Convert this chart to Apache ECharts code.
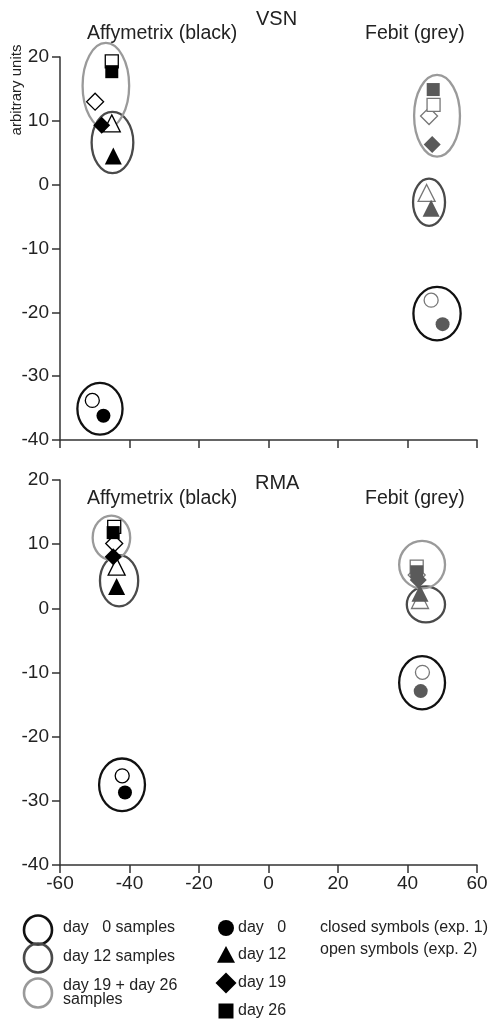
<!DOCTYPE html>
<html>
<head>
<meta charset="utf-8">
<script src="https://cdn.jsdelivr.net/npm/echarts@6/dist/echarts.min.js"></script>
<style>html,body{margin:0;padding:0;background:#fff;}#c{width:493px;height:1022px;}</style>
</head>
<body>
<div id="c"></div>
<script>
// ---- data ----
const dayLabels = ['day   0', 'day 12', 'day 19', 'day 26'];
const daySymbols = ['circle', 'triangle', 'diamond', 'rect'];
const xTicks = [-60, -40, -20, 0, 20, 40, 60];
const yTicks = [-40, -30, -20, -10, 0, 10, 20];

// points per day (0, 12, 19, 26): [x, y]
const vsnAffyClosed = [[-47.5, -36.2], [-44.65, 4.5], [-48.0, 9.3], [-45.1, 17.7]];
const vsnAffyOpen   = [[-50.7, -33.8], [-45.1, 9.6], [-49.9, 13.0], [-45.1, 19.3]];
const vsnFebitClosed = [[50.1, -21.85], [46.8, -3.7], [47.1, 6.3], [47.4, 14.9]];
const vsnFebitOpen   = [[46.8, -18.1], [45.5, -1.3], [46.2, 10.75], [47.5, 12.5]];

const rmaAffyClosed = [[-41.3, -28.7], [-43.7, 3.4], [-44.7, 8.05], [-44.7, 11.8]];
const rmaAffyOpen   = [[-42.1, -26.1], [-43.7, 6.5], [-44.4, 10.1], [-44.4, 12.7]];
const rmaFebitClosed = [[43.8, -12.9], [43.6, 2.35], [43.1, 4.4], [42.65, 5.7]];
const rmaFebitOpen   = [[44.3, -9.97], [43.6, 1.3], [42.65, 5.2], [42.65, 6.5]];

// grouping ellipses: [cx, cy, rx, ry] for day 0, day 12, day 19+26
const vsnAffyEllipses  = [[-48.5, -35.1, 6.5, 4.05], [-44.9, 6.6, 6.0, 4.8], [-46.8, 15.5, 6.7, 6.7]];
const vsnFebitEllipses = [[48.5, -20.2, 6.8, 4.2], [46.2, -2.75, 4.6, 3.7], [48.5, 10.8, 6.6, 6.4]];
const rmaAffyEllipses  = [[-42.15, -27.5, 6.6, 4.1], [-43.0, 4.3, 5.5, 4.0], [-45.2, 11.0, 5.4, 3.45]];
const rmaFebitEllipses = [[44.2, -11.6, 6.6, 4.15], [45.3, 0.6, 5.5, 2.8], [44.2, 6.8, 6.6, 3.7]];

// ---- styling ----
const FONT = 'Liberation Sans, Arial, Helvetica, sans-serif';
const ringColors = ['#111111', '#4a4a4a', '#9a9a9a'];
const affyColor = '#000000';
const febitColor = '#5a5a5a';
const symbolSizes = { circle: 14, triangle: 17, diamond: 17, rect: 13 };

function ellipseSeries(data, gi) {
  return {
    type: 'custom', xAxisIndex: gi, yAxisIndex: gi, z: 1, silent: true,
    data: data,
    renderItem: function (params, api) {
      const c = api.coord([api.value(0), api.value(1)]);
      const s = api.size([api.value(2), api.value(3)]);
      return {
        type: 'ellipse',
        shape: { cx: c[0], cy: c[1], rx: s[0], ry: s[1] },
        style: { fill: 'none', stroke: ringColors[params.dataIndex], lineWidth: 2.3 }
      };
    }
  };
}

function pointSeries(data, gi, color, open) {
  return {
    type: 'scatter', xAxisIndex: gi, yAxisIndex: gi, z: open ? 3 : 4,
    data: data,
    symbol: function (v, p) { return daySymbols[p.dataIndex]; },
    symbolSize: function (v, p) { return symbolSizes[daySymbols[p.dataIndex]]; },
    itemStyle: open
      ? { color: '#ffffff', borderColor: color === affyColor ? '#000' : '#777', borderWidth: 1.3, opacity: 1 }
      : { color: color, opacity: 1 }
  };
}

const axisLineStyle = { color: '#333', width: 1.5 };

function xAxis(gi, showLabels) {
  return {
    type: 'value', gridIndex: gi, min: -60, max: 60, interval: 20,
    axisLine: { show: true, onZero: false, lineStyle: axisLineStyle },
    axisTick: { show: true, length: 8, lineStyle: axisLineStyle },
    axisLabel: { show: showLabels, fontSize: 19, fontFamily: FONT, color: '#222', margin: 9,
      formatter: function (v) { return xTicks.indexOf(v) >= 0 ? String(v) : ''; } },
    splitLine: { show: false }
  };
}
function yAxis(gi) {
  return {
    type: 'value', gridIndex: gi, min: -40, max: 20, interval: 10,
    axisLine: { show: true, onZero: false, lineStyle: axisLineStyle },
    axisTick: { show: true, length: 8, lineStyle: axisLineStyle },
    axisLabel: { fontSize: 19, fontFamily: FONT, color: '#222', margin: 11,
      formatter: function (v) { return yTicks.indexOf(v) >= 0 ? String(v) : ''; } },
    splitLine: { show: false }
  };
}

function txt(x, y, s, size, extra) {
  return Object.assign({
    type: 'text', x: x, y: y, silent: true,
    style: { text: s, fontSize: size, fontFamily: FONT, fill: '#222', textVerticalAlign: 'middle', verticalAlign: 'middle' }
  }, extra || {});
}

const legendGraphics = [];
// ring legend
const ringY = [930, 958, 993];
ringY.forEach(function (y, i) {
  legendGraphics.push({ type: 'ellipse', silent: true, shape: { cx: 38, cy: y, rx: 14, ry: 14.5 },
    style: { fill: 'none', stroke: ringColors[i], lineWidth: 2.6 } });
});
legendGraphics.push(txt(63, 928, 'day   0 samples', 16));
legendGraphics.push(txt(63, 957, 'day 12 samples', 16));
legendGraphics.push(txt(63, 986, 'day 19 + day 26', 16));
legendGraphics.push(txt(63, 1000, 'samples', 16));
// symbol legend
const symY = [928, 955, 983, 1011];
const symSize = [16, 18, 21, 15];
symY.forEach(function (y, i) {
  const s = symSize[i], h = s / 2;
  let g;
  if (daySymbols[i] === 'circle') g = { type: 'circle', shape: { cx: 226, cy: y, r: h } };
  else if (daySymbols[i] === 'triangle') g = { type: 'polygon', shape: { points: [[226, y - h], [226 + h, y + h * 0.85], [226 - h, y + h * 0.85]] } };
  else if (daySymbols[i] === 'diamond') g = { type: 'polygon', shape: { points: [[226, y - h], [226 + h, y], [226, y + h], [226 - h, y]] } };
  else g = { type: 'rect', shape: { x: 226 - h, y: y - h, width: s, height: s } };
  g.silent = true;
  g.style = { fill: '#000' };
  legendGraphics.push(g);
  legendGraphics.push(txt(238, y, dayLabels[i], 16));
});
legendGraphics.push(txt(320, 928, 'closed symbols (exp. 1)', 16));
legendGraphics.push(txt(320, 950, 'open symbols (exp. 2)', 16));

// titles
const titleGraphics = [
  txt(256, 19, 'VSN', 20),
  txt(87, 34, 'Affymetrix (black)', 19.5),
  txt(365, 34, 'Febit (grey)', 19.5),
  txt(255, 483, 'RMA', 20),
  txt(87, 499, 'Affymetrix (black)', 19.5),
  txt(365, 499, 'Febit (grey)', 19.5),
  { type: 'text', x: 17, y: 90, rotation: Math.PI / 2, silent: true,
    style: { text: 'arbitrary units', fontSize: 15, fontFamily: FONT, fill: '#222', align: 'center', verticalAlign: 'middle', textAlign: 'center', textVerticalAlign: 'middle' } }
];

const option = {
  animation: false,
  backgroundColor: '#fff',
  grid: [
    { left: 60, top: 57, width: 417, height: 383 },
    { left: 60, top: 480, width: 417, height: 385 }
  ],
  xAxis: [xAxis(0, false), xAxis(1, true)],
  yAxis: [yAxis(0), yAxis(1)],
  series: [
    ellipseSeries(vsnAffyEllipses, 0),
    ellipseSeries(vsnFebitEllipses, 0),
    ellipseSeries(rmaAffyEllipses, 1),
    ellipseSeries(rmaFebitEllipses, 1),
    pointSeries(vsnAffyOpen, 0, affyColor, true),
    pointSeries(vsnFebitOpen, 0, febitColor, true),
    pointSeries(rmaAffyOpen, 1, affyColor, true),
    pointSeries(rmaFebitOpen, 1, febitColor, true),
    pointSeries(vsnAffyClosed, 0, affyColor, false),
    pointSeries(vsnFebitClosed, 0, febitColor, false),
    pointSeries(rmaAffyClosed, 1, affyColor, false),
    pointSeries(rmaFebitClosed, 1, febitColor, false)
  ],
  graphic: titleGraphics.concat(legendGraphics)
};

const chart = echarts.init(document.getElementById('c'), null, { renderer: 'canvas' });
chart.setOption(option);
</script>
</body>
</html>
